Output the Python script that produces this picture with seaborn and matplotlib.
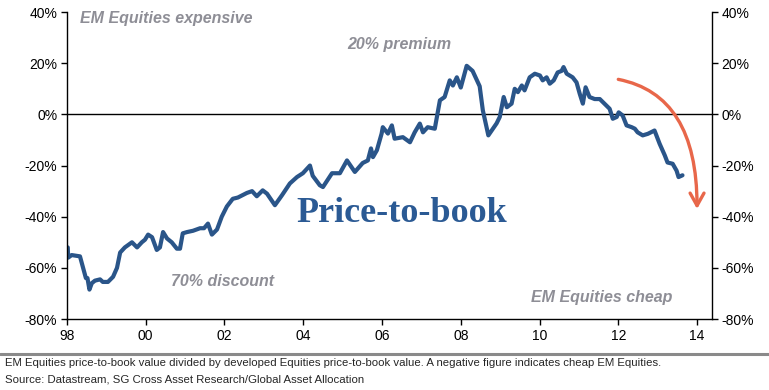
import matplotlib
matplotlib.use("Agg")
import matplotlib.pyplot as plt
import seaborn as sns
import pandas as pd

# data (year, EM/DM price-to-book premium in %)
years = [1998.02, 1998.03, 1998.12, 1998.33, 1998.41, 1998.48, 1998.52, 1998.57, 1998.63, 1998.71,
         1998.84, 1998.91, 1999.04, 1999.17, 1999.27, 1999.35, 1999.47, 1999.65, 1999.78, 1999.90,
         1999.98, 2000.06, 2000.16, 2000.28, 2000.36, 2000.44, 2000.54, 2000.66, 2000.79, 2000.87,
         2000.94, 2001.05, 2001.20, 2001.38, 2001.48, 2001.58, 2001.68, 2001.81, 2001.93, 2002.06,
         2002.21, 2002.34, 2002.57, 2002.70, 2002.82, 2002.97, 2003.08, 2003.28, 2003.46, 2003.66,
         2003.84, 2003.99, 2004.17, 2004.24, 2004.42, 2004.50, 2004.73, 2004.93, 2005.11, 2005.31,
         2005.51, 2005.64, 2005.72, 2005.77, 2005.87, 2005.99, 2006.02, 2006.15, 2006.25, 2006.32,
         2006.53, 2006.71, 2006.83, 2006.96, 2007.04, 2007.16, 2007.34, 2007.47, 2007.59, 2007.72,
         2007.80, 2007.90, 2008.00, 2008.15, 2008.30, 2008.48, 2008.56, 2008.70, 2008.91, 2008.99,
         2009.09, 2009.17, 2009.29, 2009.37, 2009.45, 2009.55, 2009.62, 2009.75, 2009.88, 2010.01,
         2010.08, 2010.18, 2010.26, 2010.36, 2010.46, 2010.56, 2010.61, 2010.69, 2010.84, 2010.94,
         2011.02, 2011.10, 2011.17, 2011.27, 2011.40, 2011.53, 2011.65, 2011.78, 2011.86, 2011.96,
         2012.01, 2012.11, 2012.21, 2012.34, 2012.42, 2012.49, 2012.62, 2012.75, 2012.92, 2013.05,
         2013.18, 2013.25, 2013.38, 2013.48, 2013.53, 2013.63]
ptb = [-52, -56, -55, -55.5, -60, -64, -64, -68.5, -66, -65,
       -64.5, -65.5, -65.5, -63.5, -60, -54, -52, -50, -52, -50,
       -49, -47, -48, -53, -52, -46, -48.5, -50, -52.5, -52.5,
       -46.5, -46, -45.5, -44.5, -44.5, -42.7, -47, -45, -40, -36,
       -33, -32.5, -30.7, -30, -32, -29.7, -31, -35.5, -31.6, -27,
       -24.5, -23, -20, -24, -27.7, -28.4, -23, -23, -18, -22.5,
       -19, -18, -13.3, -16.7, -14, -7.5, -5, -7.5, -4.3, -9.5,
       -8.9, -10.9, -7, -3.6, -7, -5, -5.6, 5.5, 6.8, 13.3,
       11.3, 14.5, 10.5, 19, 17, 11, 1.6, -8.2, -3.5, -1,
       6.8, 2.8, 4.2, 10, 8.7, 11.3, 9.4, 14.5, 15.9, 15.2,
       13.3, 14.5, 12, 13.3, 16.4, 17, 18.5, 15.9, 14.5, 12.5,
       8.1, 4.2, 10.6, 6.8, 6, 6, 4.2, 2.2, -1.7, -1,
       0.8, -0.4, -4.3, -5, -5.6, -7, -8.2, -7.6, -6.3, -11.5,
       -16, -18.8, -19.3, -22, -24.5, -23.8]

yticks = [40, 20, 0, -20, -40, -60, -80]
xticks = [1998, 2000, 2002, 2004, 2006, 2008, 2010, 2012, 2014]
xlabels = ["98", "00", "02", "04", "06", "08", "10", "12", "14"]

df = pd.DataFrame({"year": years, "ptb": ptb})

sns.set_style("white")
plt.rcParams["font.family"] = ["Liberation Sans", "DejaVu Sans"]

fig = plt.figure(figsize=(7.69, 3.90), dpi=100)
ax = fig.add_axes([0.0871, 0.182, 0.8388, 0.787])

sns.lineplot(data=df, x="year", y="ptb", ax=ax, color="#2a5589", lw=3)
ax.axhline(0, color="black", lw=1, zorder=1)

ax.set_xlim(1998, 2014.38)
ax.set_ylim(-80, 40)
ax.set_xticks(xticks)
ax.set_xticklabels(xlabels)
ax.set_yticks(yticks)
ax.set_yticklabels([f"{v}%" for v in yticks])
ax.set_xlabel("")
ax.set_ylabel("")
ax.tick_params(axis="both", direction="out", length=4, width=1, color="black",
               labelsize=10, colors="black", pad=3)
ax.tick_params(axis="y", right=True, labelright=True, left=True, labelleft=True)
ax.tick_params(axis="x", bottom=True)
for s in ["left", "right", "bottom"]:
    ax.spines[s].set_color("black")
    ax.spines[s].set_linewidth(1)
ax.spines["top"].set_visible(False)

grey = "#8e8e96"
note = dict(color=grey, fontsize=11.5, fontweight="bold", style="italic", va="center")
ax.text(1998.33, 37.5, "EM Equities expensive", ha="left", **note)
ax.text(2006.45, 27.3, "20% premium", ha="center", **note)
ax.text(2001.96, -65.2, "70% discount", ha="center", **note)
ax.text(2011.59, -71.5, "EM Equities cheap", ha="center", **note)
ax.text(2006.49, -42.2, "Price-to-book", color="#2b5a94", fontsize=26,
        fontweight="bold", family="Liberation Serif", va="baseline", ha="center")

ax.annotate("", xy=(2014.0, -37), xytext=(2012.0, 13.7),
            arrowprops=dict(arrowstyle="->,head_length=0.9,head_width=0.5",
                            connectionstyle="angle3,angleA=-11,angleB=90",
                            color="#e8674a", lw=2.4, shrinkA=0, shrinkB=0))

# footer
fig.add_artist(plt.Line2D([0, 1], [1 - 354 / 390, 1 - 354 / 390], color="#8a8a8a", lw=2.2))
fig.text(0.007, 1 - 363.5 / 390, "EM Equities price-to-book value divided by developed Equities price-to-book value. "
         "A negative figure indicates cheap EM Equities.", fontsize=8.2, va="center", ha="left")
fig.text(0.007, 1 - 379 / 390, "Source: Datastream, SG Cross Asset Research/Global Asset Allocation",
         fontsize=8.2, va="center", ha="left")

fig.savefig("out.png", dpi=100)
